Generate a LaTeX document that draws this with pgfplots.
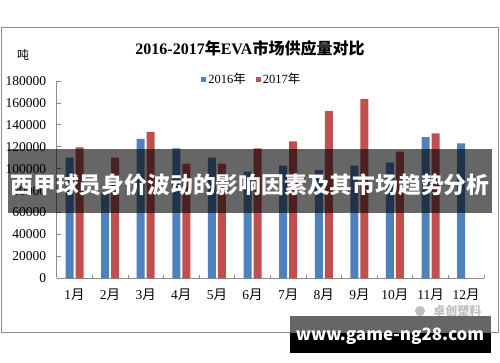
\documentclass[border=0pt]{standalone}
\usepackage{fontspec}
\setmainfont{Liberation Serif}
\newfontfamily\cjk{Noto Sans CJK SC}
\usepackage{pgfplots}
\pgfplotsset{compat=1.18}
\definecolor{b16}{HTML}{4F81BD}
\definecolor{r17}{HTML}{C0504D}
\newcommand{\yue}{{\cjk 月}}
\newcommand{\nian}{{\cjk 年}}
\begin{document}
\begin{tikzpicture}[x=1pt,y=1pt]
\path[use as bounding box] (0,0) rectangle (500,362);
\fill[white] (0,0) rectangle (500,362);
\draw[black!45, line width=0.8pt] (1,29.3) rectangle (498.5,335);
\node[font=\bfseries\fontsize{16}{16}\selectfont] at (250,314) {2016-2017{\cjk\bfseries 年}EVA{\cjk\bfseries 市场供应量对比}};
\node[font=\cjk\fontsize{12}{12}\selectfont] at (23,307) {吨};
\begin{axis}[
  at={(56.7pt,83.7pt)}, anchor=south west,
  scale only axis, width=427.3pt, height=197.3pt,
  xmin=-0.5, xmax=11.5, ymin=0, ymax=180000,
  ybar=2pt, bar width=8pt,
  axis x line*=bottom, axis y line*=left,
  axis line style={black!45, line width=0.8pt},
  xtick={0,...,11},
  xticklabels={1\yue,2\yue,3\yue,4\yue,5\yue,6\yue,7\yue,8\yue,9\yue,10\yue,11\yue,12\yue},
  minor xtick={-0.5,0.5,...,11.5},
  major x tick style={draw=none},
  minor x tick style={black!45, line width=0.8pt},
  ytick={0,20000,...,180000},
  y tick style={black!45, line width=0.8pt},
  tick align=inside, major tick length=4pt, minor tick length=3pt,
  scaled y ticks=false,
  /pgf/number format/fixed, /pgf/number format/1000 sep={},
  /pgf/number format/assume math mode=true,
  tick label style={font=\fontsize{13.5}{13.5}\selectfont},
  xticklabel style={yshift=-7pt},
  yticklabel style={xshift=-7pt},
  legend style={at={(0.457,1.010)}, anchor=center, draw=none, fill=none,
    legend columns=2, font=\fontsize{12.5}{12.5}\selectfont,
    /tikz/every even column/.append style={column sep=8pt}},
  legend image code/.code={\fill[#1] (0pt,-2.5pt) rectangle (5pt,2.5pt);},
]
\addplot[fill=b16, draw=none] coordinates {(0,110000) (1,77500) (2,127100) (3,118600) (4,110000) (5,97250) (6,102700) (7,98800) (8,102700) (9,105500) (10,128900) (11,123200)};
\addlegendentry{2016\nian}
\addplot[fill=r17, draw=none] coordinates {(0,119500) (1,110000) (2,133500) (3,104600) (4,104600) (5,118600) (6,125000) (7,152600) (8,163600) (9,115500) (10,132300)};
\addlegendentry{2017\nian}
\end{axis}
\fill[black, opacity=0.6] (8,149) rectangle (492,213);
\node[white, font=\cjk\bfseries\fontsize{22.8}{22.8}\selectfont] at (250,177) {西甲球员身价波动的影响因素及其市场趋势分析};
\fill[black!25] (420,51) circle (5);
\node[black!25, font=\cjk\bfseries\fontsize{12}{12}\selectfont, anchor=east] at (485,51) {卓创塑料};
\fill[black!60] (290,29) rectangle (491,46);
\fill[black] (290,9) rectangle (491,29);
\node[white, font=\cjk\bfseries\fontsize{17}{17}\selectfont] at (390,25.3) {www.game-ng28.com};
\end{tikzpicture}
\end{document}
